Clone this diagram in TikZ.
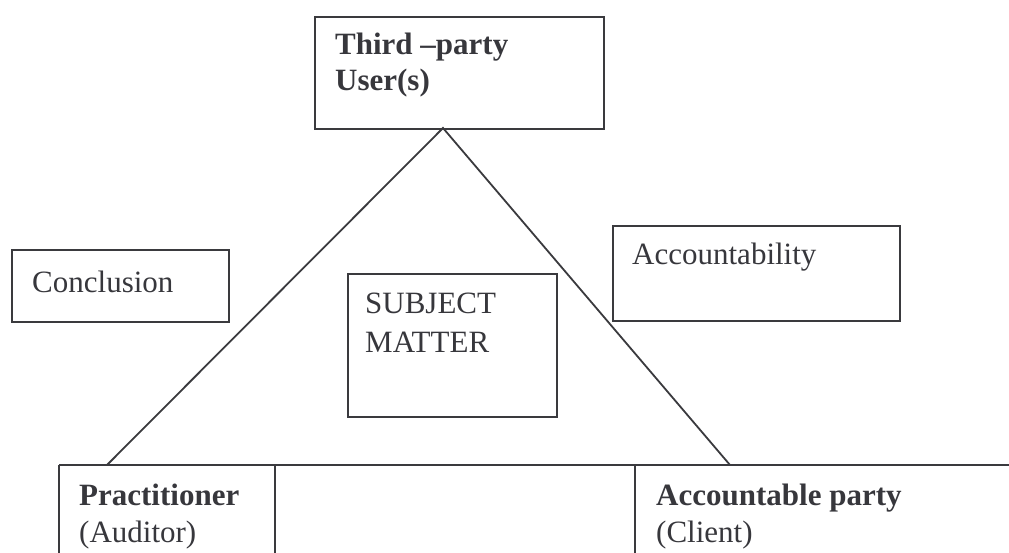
\documentclass[tikz,border=0pt]{standalone}
\usepackage{fontspec}
\setmainfont{Liberation Serif}
\usetikzlibrary{positioning}
\definecolor{linegray}{RGB}{58,58,62}
\definecolor{textgray}{RGB}{55,55,60}

\tikzset{
  box/.style={draw=linegray, line width=1.9pt, rectangle, inner sep=0pt, anchor=north west},
  lbl/.style={text=textgray, inner sep=0pt, anchor=base west, font=\fontsize{31}{38}\selectfont},
  boldlbl/.style={lbl, font=\fontsize{31}{38}\selectfont\bfseries},
  rule/.style={draw=linegray, line width=1.8pt}
}

\begin{document}
\begin{tikzpicture}[x=1pt, y=-1pt]
    \useasboundingbox (0,0) rectangle (1009,553);

    % boxes
    \node[box, minimum width=289pt, minimum height=112pt] (users) at (314,16) {};
    \node[box, minimum width=217pt, minimum height=72pt] (concl) at (11,249) {};
    \node[box, minimum width=287pt, minimum height=95pt] (acct) at (612,225) {};
    \node[box, minimum width=209pt, minimum height=143pt] (subj) at (347,273) {};

    % texts
    \node[boldlbl] (userstxt) at (335,55) {Third –party};
    \node[boldlbl] (userstxtb) at (335,91) {User(s)};
    \node[lbl] (concltxt) at (32,292) {Conclusion};
    \node[lbl] (accttxt) at (632,265) {Accountability};
    \node[lbl] (subjtxt) at (365,313) {SUBJECT};
    \node[lbl] (subjtxtb) at (365,352) {MATTER};
    \node[boldlbl] (practxt) at (79,505) {Practitioner};
    \node[lbl] (practxtb) at (79,542) {(Auditor)};
    \node[boldlbl] (partytxt) at (656,505) {Accountable party};
    \node[lbl] (partytxtb) at (656,542) {(Client)};

    % triangle
    \coordinate (apex) at (443,128);
    \coordinate (lfoot) at (107,465);
    \coordinate (rfoot) at (730,465);
    \draw[rule] (lfoot) -- (apex) -- (rfoot);

    % table at the bottom
    \coordinate (tl) at (59,465);
    \coordinate (tr) at (1009,465);
    \draw[rule] (tl) -- (tr);
    \draw[rule] (tl) -- (59,553);
    \draw[rule] (275,465) -- (275,553);
    \draw[rule] (635,465) -- (635,553);
\end{tikzpicture}
\end{document}
